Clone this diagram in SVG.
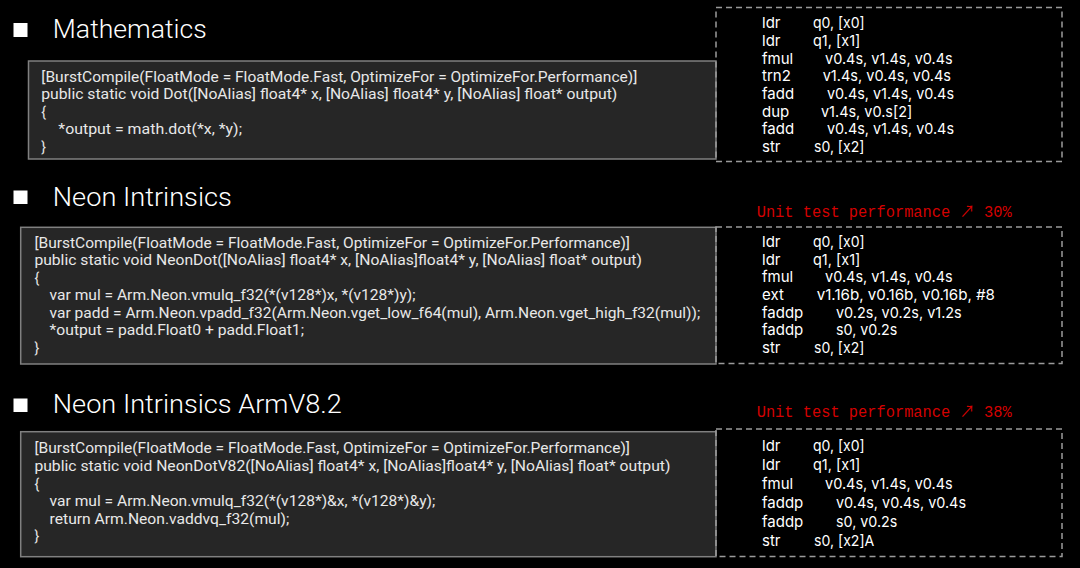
<svg xmlns="http://www.w3.org/2000/svg" width="1080" height="568" viewBox="0 0 1080 568">
<style>
.bg{fill:#000}
.bullet{fill:#fff}
.title{fill:#fff;font-family:Roboto,"Liberation Sans",sans-serif;font-size:25px;font-weight:300}
.codebox{fill:#262626;stroke:#808080;stroke-width:1.5}
.code{fill:#e8e8e8;font-family:Roboto,"Liberation Sans",sans-serif;font-size:14px}
.asmbox{fill:none;stroke:#9a9a9a;stroke-width:1.5;stroke-dasharray:6 4}
.asm{fill:#fff;font-family:Inter,"Noto Sans",sans-serif;font-size:15px}
.perf{fill:#d40000;font-family:"Liberation Mono","Noto Sans CJK SC",monospace;font-size:16px}
</style>
<rect class="bg" x="0" y="0" width="1080" height="568"/>

<g id="section-mathematics">
  <rect class="bullet" x="13.5" y="23" width="14" height="14"/>
  <text class="title" x="52.8" y="38" textLength="154" lengthAdjust="spacingAndGlyphs">Mathematics</text>
</g>
<g id="code-mathematics">
  <rect class="codebox" x="28.5" y="61" width="687.5" height="98"/>
  <text class="code" x="41.3" y="81.5" textLength="596" lengthAdjust="spacingAndGlyphs">[BurstCompile(FloatMode = FloatMode.Fast, OptimizeFor = OptimizeFor.Performance)]</text>
  <text class="code" x="41.3" y="99" textLength="576" lengthAdjust="spacingAndGlyphs">public static void Dot([NoAlias] float4* x, [NoAlias] float4* y, [NoAlias] float* output)</text>
  <text class="code" x="41.3" y="116.5">{</text>
  <text class="code" x="58.3" y="134" textLength="183.7" lengthAdjust="spacingAndGlyphs">*output = math.dot(*x, *y);</text>
  <text class="code" x="41.3" y="151.5">}</text>
</g>
<g id="asm-mathematics">
  <rect class="asmbox" x="716" y="7.5" width="346" height="154"/>
  <text class="asm" x="762" y="28">ldr</text><text class="asm" x="813" y="28" textLength="51.7" lengthAdjust="spacingAndGlyphs">q0, [x0]</text>
  <text class="asm" x="762" y="46">ldr</text><text class="asm" x="813" y="46" textLength="47.3" lengthAdjust="spacingAndGlyphs">q1, [x1]</text>
  <text class="asm" x="762" y="63.5">fmul</text><text class="asm" x="825" y="63.5" textLength="127.7" lengthAdjust="spacingAndGlyphs">v0.4s, v1.4s, v0.4s</text>
  <text class="asm" x="762" y="81">trn2</text><text class="asm" x="822.7" y="81" textLength="128.3" lengthAdjust="spacingAndGlyphs">v1.4s, v0.4s, v0.4s</text>
  <text class="asm" x="762" y="99">fadd</text><text class="asm" x="827" y="99" textLength="127" lengthAdjust="spacingAndGlyphs">v0.4s, v1.4s, v0.4s</text>
  <text class="asm" x="762" y="116.5">dup</text><text class="asm" x="821" y="116.5" textLength="91.3" lengthAdjust="spacingAndGlyphs">v1.4s, v0.s[2]</text>
  <text class="asm" x="762" y="134">fadd</text><text class="asm" x="827" y="134" textLength="127" lengthAdjust="spacingAndGlyphs">v0.4s, v1.4s, v0.4s</text>
  <text class="asm" x="762" y="152">str</text><text class="asm" x="814" y="152" textLength="50.3" lengthAdjust="spacingAndGlyphs">s0, [x2]</text>
</g>

<g id="section-neon">
  <rect class="bullet" x="13.5" y="190.5" width="14" height="13.5"/>
  <text class="title" x="52.8" y="206" textLength="179" lengthAdjust="spacingAndGlyphs">Neon Intrinsics</text>
</g>
<g id="code-neon">
  <rect class="codebox" x="20.7" y="227.3" width="695.3" height="136.7"/>
  <text class="code" x="34.4" y="247.7" textLength="595.6" lengthAdjust="spacingAndGlyphs">[BurstCompile(FloatMode = FloatMode.Fast, OptimizeFor = OptimizeFor.Performance)]</text>
  <text class="code" x="34.4" y="265.2" textLength="607.5" lengthAdjust="spacingAndGlyphs">public static void NeonDot([NoAlias] float4* x, [NoAlias]float4* y, [NoAlias] float* output)</text>
  <text class="code" x="34.4" y="282.7">{</text>
  <text class="code" x="49.6" y="300.2" textLength="366" lengthAdjust="spacingAndGlyphs">var mul = Arm.Neon.vmulq_f32(*(v128*)x, *(v128*)y);</text>
  <text class="code" x="49.6" y="317.7" textLength="650.6" lengthAdjust="spacingAndGlyphs">var padd = Arm.Neon.vpadd_f32(Arm.Neon.vget_low_f64(mul), Arm.Neon.vget_high_f32(mul));</text>
  <text class="code" x="49.6" y="335.2" textLength="254.4" lengthAdjust="spacingAndGlyphs">*output = padd.Float0 + padd.Float1;</text>
  <text class="code" x="34.4" y="352.5">}</text>
</g>
<g id="perf-neon">
  <text class="perf" x="756.7" y="216.5" textLength="255" lengthAdjust="spacingAndGlyphs">Unit test performance ↗ 30%</text>
</g>
<g id="asm-neon">
  <rect class="asmbox" x="716" y="227" width="346" height="136.5"/>
  <text class="asm" x="762" y="247">ldr</text><text class="asm" x="813" y="247" textLength="51.7" lengthAdjust="spacingAndGlyphs">q0, [x0]</text>
  <text class="asm" x="762" y="264.7">ldr</text><text class="asm" x="813" y="264.7" textLength="47.3" lengthAdjust="spacingAndGlyphs">q1, [x1]</text>
  <text class="asm" x="762" y="282.3">fmul</text><text class="asm" x="825" y="282.3" textLength="127.7" lengthAdjust="spacingAndGlyphs">v0.4s, v1.4s, v0.4s</text>
  <text class="asm" x="762" y="300">ext</text><text class="asm" x="816.7" y="300" textLength="178.3" lengthAdjust="spacingAndGlyphs">v1.16b, v0.16b, v0.16b, #8</text>
  <text class="asm" x="762" y="317.6">faddp</text><text class="asm" x="836" y="317.6" textLength="125.7" lengthAdjust="spacingAndGlyphs">v0.2s, v0.2s, v1.2s</text>
  <text class="asm" x="762" y="335.3">faddp</text><text class="asm" x="836" y="335.3" textLength="61.3" lengthAdjust="spacingAndGlyphs">s0, v0.2s</text>
  <text class="asm" x="762" y="353">str</text><text class="asm" x="814" y="353" textLength="50.3" lengthAdjust="spacingAndGlyphs">s0, [x2]</text>
</g>

<g id="section-neon-v82">
  <rect class="bullet" x="13.5" y="398.5" width="14" height="13.5"/>
  <text class="title" x="52.8" y="413" textLength="289" lengthAdjust="spacingAndGlyphs">Neon Intrinsics ArmV8.2</text>
</g>
<g id="code-neon-v82">
  <rect class="codebox" x="20.7" y="431.7" width="695.3" height="125"/>
  <text class="code" x="34.4" y="453.3" textLength="595.6" lengthAdjust="spacingAndGlyphs">[BurstCompile(FloatMode = FloatMode.Fast, OptimizeFor = OptimizeFor.Performance)]</text>
  <text class="code" x="34.4" y="470.9" textLength="636" lengthAdjust="spacingAndGlyphs">public static void NeonDotV82([NoAlias] float4* x, [NoAlias]float4* y, [NoAlias] float* output)</text>
  <text class="code" x="34.4" y="488.5">{</text>
  <text class="code" x="49.6" y="506" textLength="385.7" lengthAdjust="spacingAndGlyphs">var mul = Arm.Neon.vmulq_f32(*(v128*)&amp;x, *(v128*)&amp;y);</text>
  <text class="code" x="49.6" y="523.5" textLength="239.7" lengthAdjust="spacingAndGlyphs">return Arm.Neon.vaddvq_f32(mul);</text>
  <text class="code" x="34.4" y="541">}</text>
</g>
<g id="perf-neon-v82">
  <text class="perf" x="756.7" y="416.5" textLength="255" lengthAdjust="spacingAndGlyphs">Unit test performance ↗ 38%</text>
</g>
<g id="asm-neon-v82">
  <rect class="asmbox" x="716" y="429" width="346" height="127.5"/>
  <text class="asm" x="762" y="450.5">ldr</text><text class="asm" x="813" y="450.5" textLength="51.7" lengthAdjust="spacingAndGlyphs">q0, [x0]</text>
  <text class="asm" x="762" y="469.5">ldr</text><text class="asm" x="813" y="469.5" textLength="47.3" lengthAdjust="spacingAndGlyphs">q1, [x1]</text>
  <text class="asm" x="762" y="488.5">fmul</text><text class="asm" x="825" y="488.5" textLength="127.7" lengthAdjust="spacingAndGlyphs">v0.4s, v1.4s, v0.4s</text>
  <text class="asm" x="762" y="507.5">faddp</text><text class="asm" x="836" y="507.5" textLength="130" lengthAdjust="spacingAndGlyphs">v0.4s, v0.4s, v0.4s</text>
  <text class="asm" x="762" y="526.5">faddp</text><text class="asm" x="836" y="526.5" textLength="61.3" lengthAdjust="spacingAndGlyphs">s0, v0.2s</text>
  <text class="asm" x="762" y="545.5">str</text><text class="asm" x="814" y="545.5" textLength="60.3" lengthAdjust="spacingAndGlyphs">s0, [x2]A</text>
</g>

<g id="connectors"/>
</svg>
